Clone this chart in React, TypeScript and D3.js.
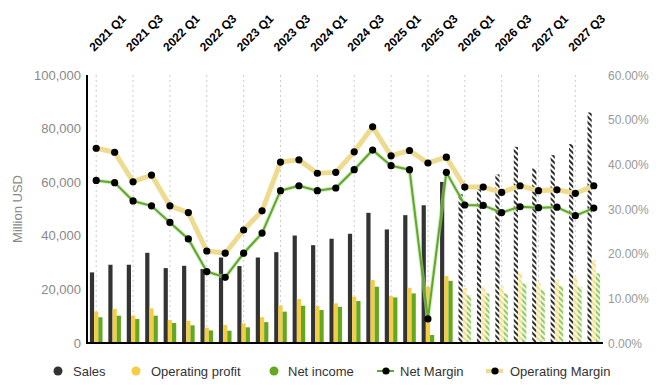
import React from "react";
import * as d3 from "d3";

const quarters = [
  "2021 Q1","2021 Q2","2021 Q3","2021 Q4",
  "2022 Q1","2022 Q2","2022 Q3","2022 Q4",
  "2023 Q1","2023 Q2","2023 Q3","2023 Q4",
  "2024 Q1","2024 Q2","2024 Q3","2024 Q4",
  "2025 Q1","2025 Q2","2025 Q3","2025 Q4",
  "2026 Q1","2026 Q2","2026 Q3","2026 Q4",
  "2027 Q1","2027 Q2","2027 Q3","2027 Q4",
];
const forecastFrom = "2026 Q1";

const sales = [26350, 29200, 29200, 33650, 27950, 28800, 27600, 31900, 28700, 31900, 33900, 40100, 36500, 38900, 40750, 48570, 42370, 47700, 51400, 60100, 55500, 59000, 62900, 73200, 65100, 70100, 74200, 86000];
const operatingProfit = [11700, 12700, 10200, 12900, 8600, 8300, 5700, 6700, 7300, 9600, 14000, 16400, 13800, 14800, 17250, 23480, 17500, 20600, 21000, 25000, 20500, 21000, 21000, 26200, 22450, 23700, 24700, 31000];
const netIncome = [9600, 10200, 8950, 10200, 7450, 6600, 4700, 4600, 5850, 7800, 11700, 13900, 12300, 13500, 15650, 21000, 17000, 18500, 3000, 23200, 17900, 18500, 18500, 22250, 19750, 21350, 21000, 26000];
const netMargin = [36.4, 35.9, 31.8, 30.7, 27.0, 23.3, 16.0, 14.7, 20.1, 24.6, 34.1, 35.2, 34.1, 34.7, 38.8, 43.2, 39.7, 38.8, 5.4, 38.2, 30.9, 30.8, 29.2, 30.5, 30.3, 30.4, 28.5, 30.2];
const operatingMargin = [43.6, 42.7, 36.1, 37.6, 30.7, 29.2, 20.6, 20.1, 25.3, 29.6, 40.5, 41.0, 38.0, 38.2, 42.8, 48.4, 41.9, 43.1, 40.3, 41.6, 34.9, 34.9, 33.7, 35.2, 34.1, 34.3, 33.5, 35.2];

const leftTicks = [0, 20000, 40000, 60000, 80000, 100000];
const rightTicks = [0, 10, 20, 30, 40, 50, 60];
const topLabels = quarters.filter((q) => q.endsWith("Q1") || q.endsWith("Q3"));

const legendItems = [
  { name: "Sales", kind: "dot", color: "#333333" },
  { name: "Operating profit", kind: "dot", color: "#f2cd45" },
  { name: "Net income", kind: "dot", color: "#64a822" },
  { name: "Net Margin", kind: "line", color: "#5fa82b" },
  { name: "Operating Margin", kind: "line", color: "#eedb8f" },
];

const W = 668, H = 388;
const L = 87, R = 603, T = 75, B = 343;
const FONT = "'Liberation Sans', Arial, sans-serif";

export default function App() {
  const x = d3.scaleBand<string>().domain(quarters).range([L, R]).paddingInner(0).paddingOuter(0);
  const step = x.step();
  const cx = (q: string) => (x(q) as number) + step / 2;
  const yL = d3.scaleLinear().domain([0, 100000]).range([B, T]);
  const yR = d3.scaleLinear().domain([0, 60]).range([B, T]);
  const fIdx = quarters.indexOf(forecastFrom);
  const bw = 4.2;

  const lineOp = d3.line<number>().x((_, i) => cx(quarters[i])).y((d) => yR(d));
  const lineNet = d3.line<number>().x((_, i) => cx(quarters[i])).y((d) => yR(d));

  const bars = (vals: number[], off: number, solid: string, pat: string, key: string) =>
    vals.map((v, i) => {
      const q = quarters[i];
      const fc = i >= fIdx;
      return (
        <rect
          key={key + i}
          x={cx(q) + off}
          y={yL(v)}
          width={bw}
          height={B - yL(v)}
          fill={fc ? `url(#${pat})` : solid}
        />
      );
    });

  const legendX = [58, 136, 274, 386, 495];
  const textX = [73, 151, 288, 400, 510];

  return (
    <svg width={W} height={H} style={{ position: "absolute", left: 0, top: 0, background: "#fff" }} fontFamily={FONT}>
      <defs>
        <pattern id="hSales" width="4" height="4" patternUnits="userSpaceOnUse" patternTransform="rotate(-45)">
          <rect width="4" height="4" fill="#ffffff" />
          <rect width="2" height="4" fill="#2e2e2e" />
        </pattern>
        <pattern id="hOp" width="4" height="4" patternUnits="userSpaceOnUse" patternTransform="rotate(-45)">
          <rect width="4" height="4" fill="#fdf7dc" />
          <rect width="2" height="4" fill="#f3df8a" />
        </pattern>
        <pattern id="hNet" width="4" height="4" patternUnits="userSpaceOnUse" patternTransform="rotate(-45)">
          <rect width="4" height="4" fill="#eef7e4" />
          <rect width="2" height="4" fill="#93cc62" />
        </pattern>
      </defs>
      <rect width={W} height={H} fill="#ffffff" />

      {/* grid lines */}
      {topLabels.map((q) => (
        <line key={"g" + q} x1={cx(q)} x2={cx(q)} y1={T} y2={B} stroke="#cccccc" strokeDasharray="2,3" strokeWidth={1} />
      ))}

      {/* top labels */}
      {topLabels.map((q) => (
        <text
          key={"t" + q}
          transform={`translate(${cx(q) - 2},${52}) rotate(-45)`}
          fontSize={12}
          fontWeight="bold"
          fill="#000"
        >
          {q}
        </text>
      ))}

      {/* bars */}
      {bars(sales, -6.3, "#333333", "hSales", "s")}
      {bars(operatingProfit, -2.1, "#f2cd45", "hOp", "o")}
      {bars(netIncome, 2.1, "#64a822", "hNet", "n")}

      {/* lines */}
      <path d={lineOp(operatingMargin) || ""} fill="none" stroke="#eedb8f" strokeWidth={5} strokeLinejoin="round" />
      <path d={lineNet(netMargin) || ""} fill="none" stroke="#b5dc98" strokeWidth={4} strokeOpacity={0.6} strokeLinejoin="round" />
      <path d={lineNet(netMargin) || ""} fill="none" stroke="#5fa82b" strokeWidth={2} strokeLinejoin="round" />
      {operatingMargin.map((v, i) => (
        <circle key={"om" + i} cx={cx(quarters[i])} cy={yR(v)} r={3.6} fill="#000" />
      ))}
      {netMargin.map((v, i) => (
        <circle key={"nm" + i} cx={cx(quarters[i])} cy={yR(v)} r={3.6} fill="#000" />
      ))}

      {/* axes */}
      <line x1={L} x2={L} y1={T} y2={B + 1} stroke="#000" strokeWidth={2} />
      <line x1={L - 1} x2={R} y1={B} y2={B} stroke="#000" strokeWidth={2} />
      {leftTicks.map((t) => (
        <text key={"l" + t} x={81} y={yL(t) + 4.5} textAnchor="end" fontSize={13} fill="#888888">
          {d3.format(",")(t)}
        </text>
      ))}
      {rightTicks.map((t) => (
        <text key={"r" + t} x={608} y={yR(t) + 4.5} fontSize={12} fill="#999999">
          {t.toFixed(2) + "%"}
        </text>
      ))}
      <text transform={`translate(22,${(T + B) / 2}) rotate(-90)`} textAnchor="middle" fontSize={13} fill="#888888">
        Million USD
      </text>

      {/* legend */}
      {legendItems.map((it, i) => (
        <g key={"lg" + i}>
          {it.kind === "dot" ? (
            <circle cx={legendX[i]} cy={371} r={4.5} fill={it.color} />
          ) : (
            <g>
              <line x1={legendX[i] - 9} x2={legendX[i] + 8} y1={371} y2={371} stroke={it.color} strokeWidth={it.name === "Operating Margin" ? 4 : 2} />
              <circle cx={legendX[i]} cy={371} r={3.6} fill="#000" />
            </g>
          )}
          <text x={textX[i]} y={375.5} fontSize={13} fill="#333333">
            {it.name}
          </text>
        </g>
      ))}
    </svg>
  );
}
